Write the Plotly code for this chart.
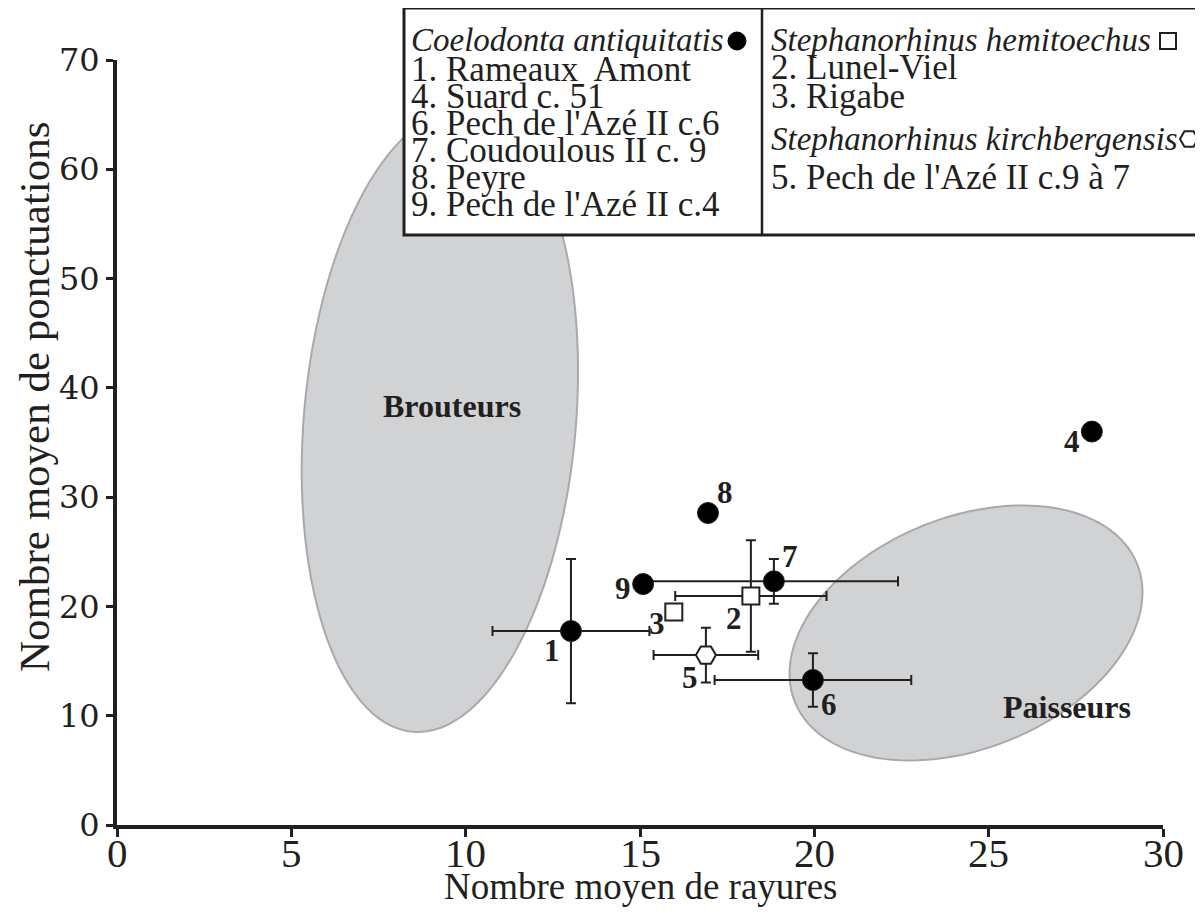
import plotly.graph_objects as go
import numpy as np

# ---------------- data ----------------
coel_ids = ["1", "4", "6", "7", "8", "9"]
coel_x = [13.02, 27.96, 19.96, 18.84, 16.95, 15.09]
coel_y = [17.75, 36.0, 13.27, 22.3, 28.55, 22.05]
coel_xerr = [2.25, 0, 2.82, 3.56, 0, 0]
coel_yerr = [6.6, 0, 2.45, 2.05, 0, 0]

hemi_ids = ["2", "3"]
hemi_x = [18.18, 15.97]
hemi_y = [20.95, 19.5]
hemi_xerr = [2.17, 0]
hemi_yerr = [5.1, 0]

kirch_ids = ["5"]
kirch_x = [16.89]
kirch_y = [15.55]
kirch_xerr = [1.5]
kirch_yerr = [2.5]

zone_names = ["Brouteurs", "Paisseurs"]
zone_cx = [9.26, 24.35]
zone_cy = [36.97, 17.57]

x_ticks = [0, 5, 10, 15, 20, 25, 30]
y_ticks = [0, 10, 20, 30, 40, 50, 60, 70]

legend_left_title = "Coelodonta antiquitatis"
legend_left_items = ["1. Rameaux  Amont", "4. Suard c. 51", "6. Pech de l'Azé II c.6",
                     "7. Coudoulous II c. 9", "8. Peyre", "9. Pech de l'Azé II c.4"]
legend_right_title1 = "Stephanorhinus hemitoechus"
legend_right_items1 = ["2. Lunel-Viel", "3. Rigabe"]
legend_right_title2 = "Stephanorhinus kirchbergensis"
legend_right_items2 = ["5. Pech de l'Azé II c.9 à 7"]

x_title = "Nombre moyen de rayures"
y_title = "Nombre moyen de ponctuations"

# ---------------- layout constants ----------------
# the page body has an 8px margin, so the figure starts at (8, 8)
W, H = 1195, 906
ML, MR, MT, MB = 109, 40, 52, 89
PW = W - ML - MR          # 1046
PH = H - MT - MB          # 765
PL, PB = 117, 825         # plot left / bottom in page pixels
XR = [0, 30]
YR = [0, 70]
PXX = PW / (XR[1] - XR[0])
PXY = PH / (YR[1] - YR[0])

TXT = "#231f20"
SERIF = "Liberation Serif, Times New Roman, serif"


def px_x(px):
    return (px - PL) / PW


def px_y(py):
    return (PB - py) / PH


# ellipse geometry: semi-axes in px, visual angle (deg, CCW) of major axis
zone_geom = {
    "Brouteurs": dict(a=312, b=136, ang=85),
    "Paisseurs": dict(a=184.5, b=115.6, ang=22),
}
zone_label_pos = {"Brouteurs": (452, 406), "Paisseurs": (1067, 707)}

label_offsets = {
    "1": (-19, 19), "2": (-17, 22), "3": (-17, 12), "4": (-20, 10), "5": (-16, 22),
    "6": (16, 25), "7": (16, -25), "8": (17, -20), "9": (-20, 4),
}

fig = go.Figure()

shapes = []
annotations = []

# ellipses
for name, cx, cy in zip(zone_names, zone_cx, zone_cy):
    g = zone_geom[name]
    th = np.deg2rad(g["ang"])
    t = np.linspace(0, 2 * np.pi, 121)
    ux, uy = np.cos(th), np.sin(th)
    vx, vy = -np.sin(th), np.cos(th)
    dx = g["a"] * np.cos(t) * ux + g["b"] * np.sin(t) * vx
    dy = g["a"] * np.cos(t) * uy + g["b"] * np.sin(t) * vy
    xs = cx + dx / PXX
    ys = cy + dy / PXY
    path = "M " + " L ".join(f"{a:.4f},{b:.4f}" for a, b in zip(xs, ys)) + " Z"
    shapes.append(dict(type="path", path=path, xref="x", yref="y", layer="below",
                       fillcolor="#d1d2d4", line=dict(color="#a7a9ac", width=2)))
    lx, ly = zone_label_pos[name]
    annotations.append(dict(x=px_x(lx), y=px_y(ly), xref="paper", yref="paper",
                            xanchor="center", yanchor="middle",
                            text=f"<b>{name}</b>", showarrow=False,
                            font=dict(family=SERIF, size=32, color=TXT)))

err_style = dict(type="data", color="#231f20", thickness=2, width=5)

fig.add_trace(go.Scatter(
    x=coel_x, y=coel_y, mode="markers",
    marker=dict(symbol="circle", size=21, color="#000000", line=dict(color="#231f20", width=1)),
    error_x=dict(array=coel_xerr, **err_style),
    error_y=dict(array=coel_yerr, **err_style),
    cliponaxis=False, hoverinfo="skip"))
fig.add_trace(go.Scatter(
    x=hemi_x, y=hemi_y, mode="markers",
    marker=dict(symbol="square", size=17, color="white", line=dict(color="#231f20", width=2)),
    error_x=dict(array=hemi_xerr, **err_style),
    error_y=dict(array=hemi_yerr, **err_style),
    cliponaxis=False, hoverinfo="skip"))
fig.add_trace(go.Scatter(
    x=kirch_x, y=kirch_y, mode="markers",
    marker=dict(symbol="hexagon2", size=20, color="white", line=dict(color="#231f20", width=2)),
    error_x=dict(array=kirch_xerr, **err_style),
    error_y=dict(array=kirch_yerr, **err_style),
    cliponaxis=False, hoverinfo="skip"))

# point labels
for ids, xs, ys in [(coel_ids, coel_x, coel_y), (hemi_ids, hemi_x, hemi_y), (kirch_ids, kirch_x, kirch_y)]:
    for i, x, y in zip(ids, xs, ys):
        ox, oy = label_offsets[i]
        annotations.append(dict(x=x, y=y, xref="x", yref="y", text=f"<b>{i}</b>",
                                showarrow=False, xshift=ox, yshift=-oy,
                                xanchor="center", yanchor="middle",
                                font=dict(family=SERIF, size=31, color=TXT)))

# legend box
shapes.append(dict(type="rect", xref="paper", yref="paper",
                   x0=px_x(404), x1=px_x(1215), y0=px_y(235), y1=px_y(8),
                   fillcolor="white", line=dict(color="#231f20", width=3), layer="above"))
shapes.append(dict(type="line", xref="paper", yref="paper",
                   x0=px_x(762), x1=px_x(762), y0=px_y(235), y1=px_y(8),
                   line=dict(color="#231f20", width=2.5), layer="above"))

LFS = 35
LFS_IT = 33


def leg_text(txt, px, py, italic=False):
    t = f"<i>{txt}</i>" if italic else txt
    annotations.append(dict(x=px_x(px), y=px_y(py), xref="paper", yref="paper",
                            text=t, showarrow=False, xanchor="left", yanchor="middle",
                            font=dict(family=SERIF, size=LFS_IT if italic else LFS, color=TXT)))


leg_text(legend_left_title, 409, 40, italic=True)
for k, item in enumerate(legend_left_items):
    leg_text(item, 409, 70 + k * 26.8)
leg_text(legend_right_title1, 769, 40, italic=True)
for k, item in enumerate(legend_right_items1):
    leg_text(item, 769, 68 + k * 28)
leg_text(legend_right_title2, 769, 139, italic=True)
for k, item in enumerate(legend_right_items2):
    leg_text(item, 769, 177 + k * 28)

# legend symbols
r = 9
shapes.append(dict(type="circle", xref="paper", yref="paper",
                   x0=px_x(737 - r), x1=px_x(737 + r), y0=px_y(41 + r), y1=px_y(41 - r),
                   fillcolor="black", line=dict(color="black", width=1), layer="above"))
s = 8
shapes.append(dict(type="rect", xref="paper", yref="paper",
                   x0=px_x(1168 - s), x1=px_x(1168 + s), y0=px_y(41 + s), y1=px_y(41 - s),
                   fillcolor="white", line=dict(color="#231f20", width=2), layer="above"))
hx, hy, hr = 1189, 139, 9
ang = np.deg2rad(np.arange(0, 360, 60))
hp = "M " + " L ".join(f"{px_x(hx + hr * np.cos(a)):.5f},{px_y(hy + hr * np.sin(a)):.5f}" for a in ang) + " Z"
shapes.append(dict(type="path", xref="paper", yref="paper", path=hp,
                   fillcolor="white", line=dict(color="#231f20", width=2), layer="above"))

# x tick labels (placed close to the axis, as in the reference)
for v in x_ticks:
    annotations.append(dict(x=v, y=px_y(853), xref="x", yref="paper", text=str(v),
                            showarrow=False, xanchor="center", yanchor="middle",
                            font=dict(family=SERIF, size=41, color=TXT)))

# axis titles
annotations.append(dict(x=px_x(641), y=px_y(886), xref="paper", yref="paper", text=x_title,
                        showarrow=False, xanchor="center", yanchor="middle",
                        font=dict(family=SERIF, size=37, color=TXT)))
annotations.append(dict(x=px_x(34), y=px_y(397), xref="paper", yref="paper", text=y_title,
                        showarrow=False, textangle=-90, xanchor="center", yanchor="middle",
                        font=dict(family=SERIF, size=43, color=TXT)))

fig.update_layout(
    width=W, height=H, margin=dict(l=ML, r=MR, t=MT, b=MB),
    paper_bgcolor="white", plot_bgcolor="white", showlegend=False,
    shapes=shapes, annotations=annotations,
    xaxis=dict(range=XR, tickvals=x_ticks, showticklabels=False,
               showgrid=False, zeroline=False, showline=True, linecolor="#231f20", linewidth=4,
               ticks="outside", ticklen=8, tickwidth=3, tickcolor="#231f20"),
    yaxis=dict(range=YR, tickvals=y_ticks, ticktext=[str(v) for v in y_ticks],
               showgrid=False, zeroline=False, showline=True, linecolor="#231f20", linewidth=4,
               ticks="outside", ticklen=7, tickwidth=3, tickcolor="#231f20",
               tickfont=dict(family="DejaVu Serif, serif", size=32, color=TXT)),
)

fig.write_html("out.html")
